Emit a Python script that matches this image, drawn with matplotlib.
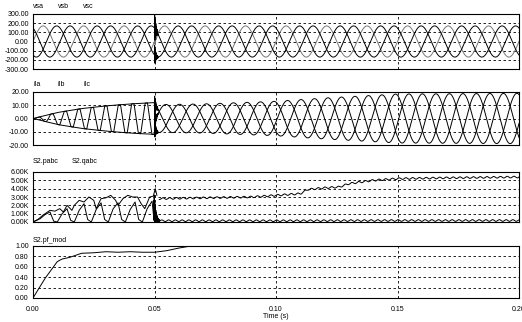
import numpy as np
import matplotlib.pyplot as plt

plt.rcParams['font.family'] = ['Liberation Sans', 'DejaVu Sans']

# ---- values ----
f_line = 60.0          # Hz
v_peak = 170.0         # source phase voltage peak

# current peak envelope
i_env_t = [0.0, 0.01, 0.02, 0.03, 0.04, 0.0499, 0.05, 0.07, 0.10, 0.12, 0.15, 0.20]
i_env_a = [0.0, 4.5, 7.5, 9.5, 11.0, 12.0, 10.5, 11.0, 13.0, 15.5, 18.5, 19.0]

# S2.pabc before the step (kW)
p_pre_t = [0, 0.002, 0.004, 0.007, 0.009, 0.011, 0.0125, 0.014, 0.016, 0.017, 0.019,
           0.021, 0.023, 0.025, 0.026, 0.027, 0.028, 0.030, 0.032, 0.034, 0.035,
           0.037, 0.039, 0.041, 0.043, 0.0445, 0.046, 0.048, 0.0495, 0.0503, 0.051]
p_pre_v = [0, 0.3, 0.8, 1.4, 1.3, 1.6, 1.2, 2.0, 1.4, 2.0, 2.6,
           2.4, 3.0, 2.6, 1.6, 2.2, 2.8, 2.9, 3.2, 2.6, 2.0,
           2.8, 3.2, 3.0, 3.0, 2.2, 1.6, 3.0, 3.1, 4.0, 3.2]
# S2.pabc trend after the step
p_post_t = [0.052, 0.07, 0.09, 0.10, 0.11, 0.113, 0.12, 0.126, 0.13, 0.14, 0.15, 0.17, 0.20]
p_post_v = [2.8, 2.9, 3.0, 3.2, 3.4, 3.9, 4.1, 4.2, 4.6, 5.0, 5.2, 5.3, 5.4]

# S2.qabc before the step
q_pre_t = [0, 0.003, 0.005, 0.007, 0.0085, 0.010, 0.012, 0.014, 0.0155, 0.017, 0.019,
           0.021, 0.0225, 0.024, 0.026, 0.028, 0.0295, 0.031, 0.033, 0.035, 0.0365,
           0.038, 0.040, 0.042, 0.0435, 0.045, 0.047, 0.049, 0.0498]
q_pre_v = [0, 0.4, 0.9, 1.2, 0.1, 0.0, 1.0, 1.6, 0.2, 0.0, 1.4,
           2.2, 0.3, 0.0, 1.5, 2.3, 0.3, 0.0, 1.6, 2.3, 0.3,
           0.0, 1.5, 2.4, 0.3, 0.0, 1.6, 2.5, 0.2]
q_post_t = [0.052, 0.10, 0.15, 0.20]
q_post_v = [0.15, 0.15, 0.18, 0.18]
q_burst_peak = 3.6
ripple_kw = 0.1

# S2.pf_mod
pf_t = [0, 0.005, 0.010, 0.012, 0.015, 0.02, 0.025, 0.03, 0.035, 0.04, 0.045, 0.05,
        0.055, 0.06, 0.065, 0.2]
pf_v = [0, 0.38, 0.70, 0.75, 0.78, 0.86, 0.87, 0.89, 0.88, 0.89, 0.88, 0.88,
        0.91, 0.96, 1.0, 1.0]

# ---- waveforms ----
t = np.linspace(0, 0.2, 8001)
w = 2 * np.pi * f_line
shifts = [0, -2 * np.pi / 3, 2 * np.pi / 3]
burst = (t >= 0.05) & (t < 0.0515)
burst_wave = np.sin(2 * np.pi * 4000 * t) * np.exp(-(t - 0.05) / 0.0006)

v = [v_peak * np.sin(w * t + s) for s in shifts]
for k in range(3):
    v[k] = np.where(burst, v[k] + 120 * burst_wave * (k + 1) / 2, v[k])

env = np.interp(t, i_env_t, i_env_a)
cur = []
for k, s in enumerate(shifts):
    pre = np.clip(3.0 * np.sin(w * t + s - 0.3), -1, 1)
    post = np.sin(w * t + s - 0.2)
    ik = env * np.where(t < 0.05, pre, post)
    ik = np.where(burst, ik + 8 * burst_wave, ik)
    cur.append(ik)

tp = np.linspace(0.052, 0.2, 2000)
p_post = np.interp(tp, p_post_t, p_post_v) + ripple_kw * np.sin(2 * np.pi * 360 * tp)
q_post = np.interp(tp, q_post_t, q_post_v) + ripple_kw * np.sin(2 * np.pi * 360 * tp + 1)
tb = np.linspace(0.0498, 0.052, 80)
q_burst = q_burst_peak * 0.5 * (1 + np.sin(2 * np.pi * 15000 * tb)) * np.exp(-(tb - 0.0498) / 0.0008)

# ---- figure ----
W, H = 522, 322
fig = plt.figure(figsize=(W / 100, H / 100), dpi=100)
left, right = 33, 519
boxes = [(14, 69), (92, 145), (172, 222), (246, 298)]
axs = []
for top, bot in boxes:
    ax = fig.add_axes([left / W, 1 - bot / H, (right - left) / W, (bot - top) / H])
    axs.append(ax)

lw = 0.7
ax = axs[0]
for k, col in enumerate(['#777777', 'black', 'black']):
    ax.plot(t, v[k], color=col, lw=lw)
ax.set_ylim(-300, 300)
ax.set_yticks([300, 200, 100, 0, -100, -200, -300])
ax.set_yticklabels(['300.00', '200.00', '100.00', '0.00', '-100.00', '-200.00', '-300.00'])

ax = axs[1]
for k in range(3):
    ax.plot(t, cur[k], color='black', lw=lw)
ax.set_ylim(-20, 20)
ax.set_yticks([20, 10, 0, -10, -20])
ax.set_yticklabels(['20.00', '10.00', '0.00', '-10.00', '-20.00'])

ax = axs[2]
ax.plot(p_pre_t, p_pre_v, color='black', lw=lw)
ax.plot(tp, p_post, color='black', lw=lw)
ax.plot(q_pre_t, q_pre_v, color='black', lw=lw)
ax.plot(tb, q_burst, color='black', lw=lw)
ax.plot(tp, q_post, color='black', lw=lw)
ax.set_ylim(0, 6)
ax.set_yticks([6, 5, 4, 3, 2, 1, 0])
ax.set_yticklabels([f'{x:.2f}K' for x in [6, 5, 4, 3, 2, 1, 0]])

ax = axs[3]
ax.plot(pf_t, pf_v, color='black', lw=lw)
ax.set_ylim(0, 1)
ax.set_yticks([1, 0.8, 0.6, 0.4, 0.2, 0])
ax.set_yticklabels(['1.00', '0.80', '0.60', '0.40', '0.20', '0.00'])

xt = [0, 0.05, 0.10, 0.15, 0.20]
for i, ax in enumerate(axs):
    ax.set_xlim(0, 0.2)
    ax.set_xticks(xt)
    lo, hi = ax.get_ylim()
    for y in ax.get_yticks():
        if lo < y < hi:
            ax.axhline(y, color='black', lw=0.6, ls=(0, (3, 3)), zorder=0)
    for x in xt[1:-1]:
        ax.axvline(x, color='black', lw=0.6, ls=(0, (3, 3)), zorder=0)
    ax.tick_params(length=0, labelsize=5, pad=3)
    for sp in ax.spines.values():
        sp.set_linewidth(0.8)
    if i < 3:
        ax.set_xticklabels([])

axs[3].set_xticklabels(['0.00', '0.05', '0.10', '0.15', '0.20'])
axs[3].tick_params(axis='x', pad=6)
axs[3].set_xlabel('Time (s)', fontsize=5, labelpad=0)

# PSIM-style curve names above each panel
names = [(['vsa', 'vsb', 'vsc'], [33, 58, 83], 6),
         (['iIa', 'iIb', 'iIc'], [33, 58, 83], 84),
         (['S2.pabc', 'S2.qabc'], [33, 72], 162),
         (['S2.pf_mod'], [33], 240)]
for labels, xs, y in names:
    for lab, x in zip(labels, xs):
        fig.text(x / W, 1 - y / H, lab, fontsize=5, va='center', ha='left')

fig.savefig('out.png', dpi=100)
